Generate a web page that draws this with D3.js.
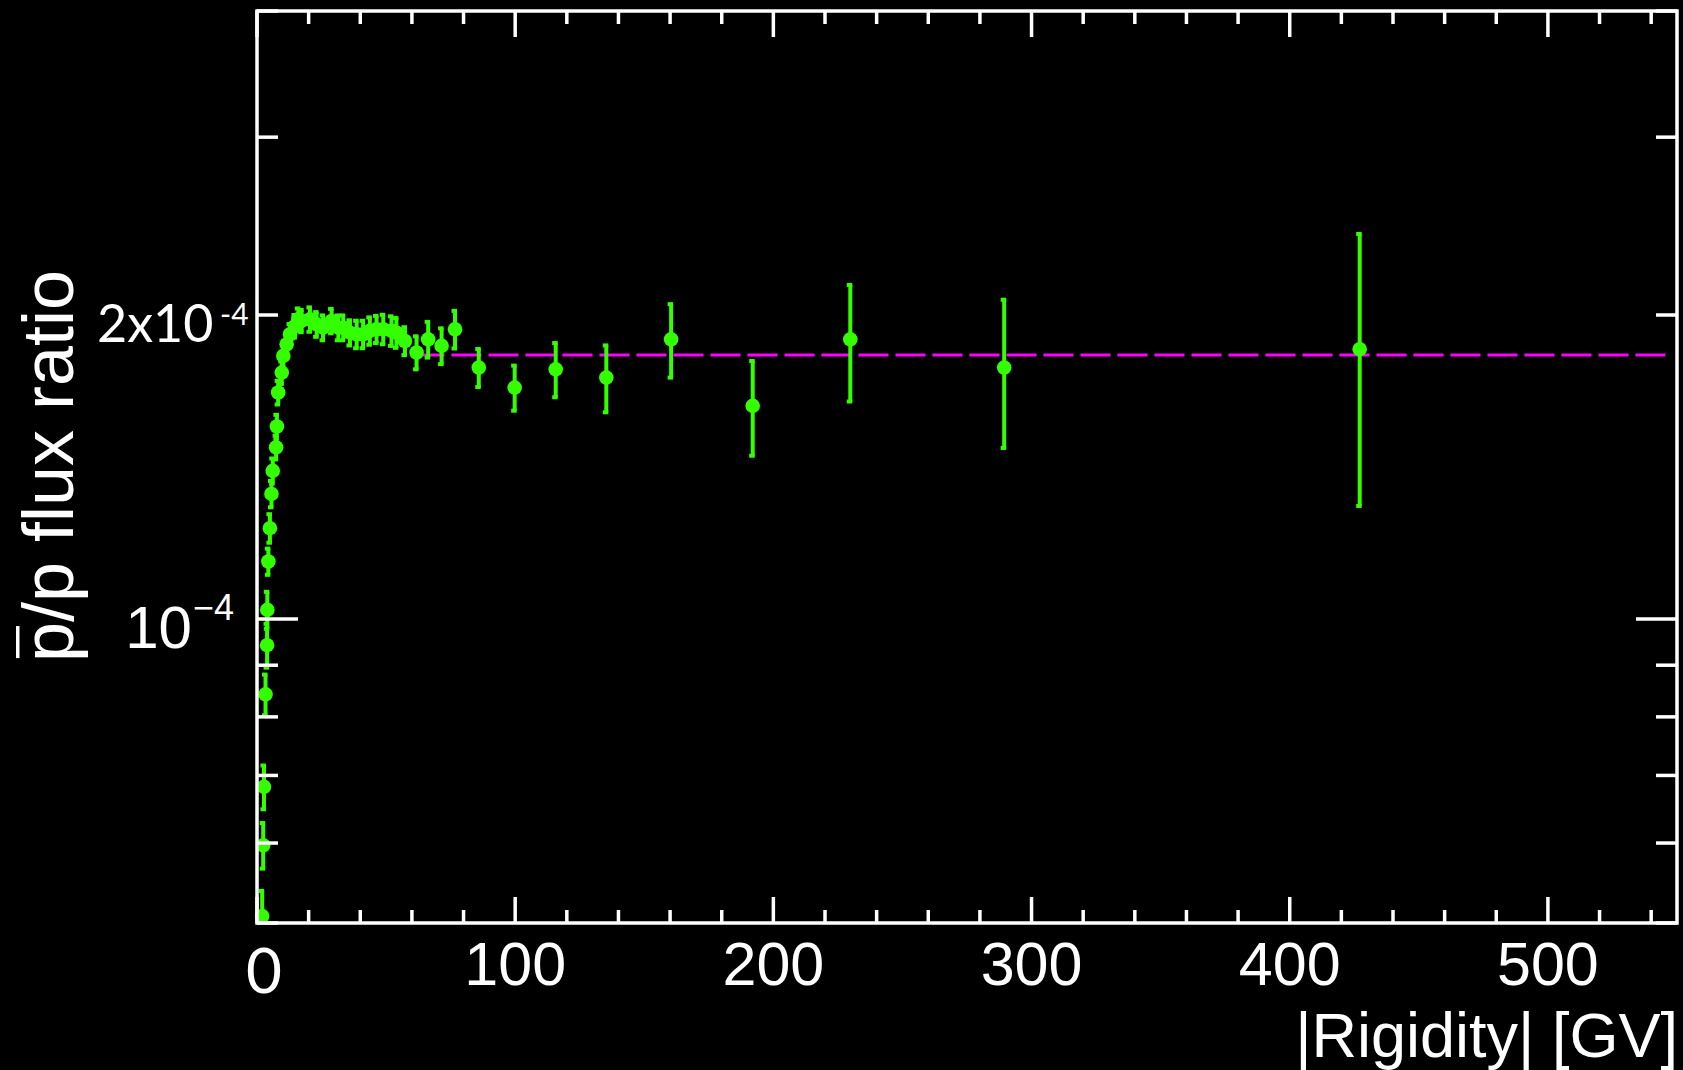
<!DOCTYPE html>
<html>
<head>
<meta charset="utf-8">
<script src="https://cdn.jsdelivr.net/npm/d3@7"></script>
<style>
  body { margin: 0; background: #000; }
  svg { display: block; }
</style>
</head>
<body>
<div id="chart"></div>
<script>
(function () {
  "use strict";

  // pbar/p ratio vs |rigidity|
  const rigidity = [
    2.0, 2.4, 2.7, 3.3, 3.9, 4.0, 4.4, 5.0, 5.6, 6.1, 7.4, 7.7, 8.2, 9.6,
    10.2, 11.5, 12.8, 14.7, 16.0, 17.3, 20.5, 23.1, 25.6, 28.9, 31.5, 33.4,
    36.0, 38.6, 41.1, 43.7, 46.3, 48.9, 52.1, 54.0, 57.3, 61.8, 66.3, 71.5,
    76.7, 85.9, 99.8, 115.7, 135.3, 160.4, 192.0, 229.8, 289.4, 427.1
  ];
  const ratio = [
    5.08e-5, 5.97e-5, 6.82e-5, 8.42e-5, 9.42e-5, 1.021e-4, 1.14e-4, 1.23e-4,
    1.33e-4, 1.402e-4, 1.479e-4, 1.551e-4, 1.676e-4, 1.754e-4, 1.822e-4,
    1.871e-4, 1.914e-4, 1.95e-4, 1.98e-4, 1.973e-4, 1.98e-4, 1.958e-4,
    1.943e-4, 1.973e-4, 1.943e-4, 1.943e-4, 1.921e-4, 1.914e-4, 1.914e-4,
    1.929e-4, 1.936e-4, 1.936e-4, 1.929e-4, 1.921e-4, 1.885e-4, 1.836e-4,
    1.892e-4, 1.864e-4, 1.936e-4, 1.774e-4, 1.695e-4, 1.767e-4, 1.734e-4,
    1.892e-4, 1.626e-4, 1.892e-4, 1.774e-4, 1.85e-4
  ];
  const ratioErr = [
    0.3e-5, 0.31e-5, 0.34e-5, 0.39e-5, 0.47e-5, 0.43e-5, 0.34e-5, 0.4e-5,
    0.4e-5, 0.4e-5, 0.4e-5, 0.42e-5, 0.45e-5, 0.45e-5, 0.45e-5, 0.45e-5,
    0.45e-5, 0.5e-5, 0.5e-5, 0.5e-5, 0.55e-5, 0.55e-5, 0.55e-5, 0.55e-5,
    0.55e-5, 0.55e-5, 0.55e-5, 0.6e-5, 0.6e-5, 0.6e-5, 0.6e-5, 0.65e-5,
    0.65e-5, 0.65e-5, 0.6e-5, 0.69e-5, 0.77e-5, 0.76e-5, 0.83e-5, 0.77e-5,
    0.87e-5, 1.09e-5, 1.32e-5, 1.58e-5, 1.75e-5, 2.5e-5, 2.97e-5, 5.56e-5
  ];

  // constant fit above ~60 GV
  const fitLevel = 1.826e-4;
  const fitRange = [61, 545.5];

  // axes
  const xDomain = [0, 550];
  const yDomain = [5e-5, 4e-4];
  const xMajor = [0, 100, 200, 300, 400, 500];
  const xMinor = d3.range(0, 551, 20);
  const xLabels = ["100", "200", "300", "400", "500"];
  const yMinor = [5e-5, 6e-5, 7e-5, 8e-5, 9e-5, 2e-4, 3e-4, 4e-4];
  const yMajor = [1e-4];

  const W = 1683, H = 1070;
  const left = 257, right = 1677, top = 11, bottom = 923;
  const green = "#33ff00";

  const svg = d3
    .select("#chart")
    .append("svg")
    .attr("width", W)
    .attr("height", H)
    .style("background", "#000");

  const x = d3.scaleLinear().domain(xDomain).range([left, right]);
  const y = d3.scaleLog().domain(yDomain).range([bottom, top]);

  const plot = svg.append("g");

  // dashed fit line
  plot
    .append("line")
    .attr("x1", x(fitRange[0]))
    .attr("x2", x(fitRange[1]))
    .attr("y1", y(fitLevel))
    .attr("y2", y(fitLevel))
    .attr("stroke", "#ff00ff")
    .attr("stroke-width", 3)
    .attr("stroke-dasharray", "30 7");

  const pts = rigidity.map((r, i) => ({ r: r, v: ratio[i], e: ratioErr[i] }));

  // error bars
  const bars = plot.append("g").attr("fill", green);
  bars
    .selectAll("rect.bar")
    .data(pts)
    .join("rect")
    .attr("class", "bar")
    .attr("x", (d) => x(d.r) - 2)
    .attr("width", 4)
    .attr("y", (d) => Math.max(top, y(d.v + d.e)))
    .attr("height", (d) => Math.min(bottom, y(d.v - d.e)) - Math.max(top, y(d.v + d.e)));

  // little end marks
  bars
    .selectAll("rect.cap")
    .data(pts.flatMap((d) => [
      { r: d.r, py: y(d.v + d.e) },
      { r: d.r, py: y(d.v - d.e) }
    ]).filter((c) => c.py < bottom - 2))
    .join("rect")
    .attr("class", "cap")
    .attr("x", (d) => x(d.r) - 3.5)
    .attr("width", 5.5)
    .attr("y", (d) => d.py - 2)
    .attr("height", 4);

  // markers
  plot
    .append("g")
    .selectAll("circle")
    .data(pts)
    .join("circle")
    .attr("cx", (d) => x(d.r))
    .attr("cy", (d) => y(d.v))
    .attr("r", 7.3)
    .attr("fill", green);

  // frame + ticks
  const frame = svg
    .append("g")
    .attr("stroke", "#fff")
    .attr("stroke-width", 3.5)
    .attr("fill", "none");

  frame
    .append("rect")
    .attr("x", left)
    .attr("y", top)
    .attr("width", right - left)
    .attr("height", bottom - top);

  const xt = xMinor.map((v) => ({ v: v, len: xMajor.includes(v) ? 26 : 13 }));
  frame
    .selectAll("line.xb")
    .data(xt)
    .join("line")
    .attr("x1", (d) => x(d.v))
    .attr("x2", (d) => x(d.v))
    .attr("y1", bottom)
    .attr("y2", (d) => bottom - d.len);
  frame
    .selectAll("line.xt")
    .data(xt)
    .join("line")
    .attr("x1", (d) => x(d.v))
    .attr("x2", (d) => x(d.v))
    .attr("y1", top)
    .attr("y2", (d) => top + d.len);

  const yt = yMinor.map((v) => ({ v: v, len: 21 })).concat(yMajor.map((v) => ({ v: v, len: 41 })));
  frame
    .selectAll("line.yl")
    .data(yt)
    .join("line")
    .attr("x1", left)
    .attr("x2", (d) => left + d.len)
    .attr("y1", (d) => y(d.v))
    .attr("y2", (d) => y(d.v));
  frame
    .selectAll("line.yr")
    .data(yt)
    .join("line")
    .attr("x1", right)
    .attr("x2", (d) => right - d.len)
    .attr("y1", (d) => y(d.v))
    .attr("y2", (d) => y(d.v));

  // x tick labels
  const txt = svg.append("g").attr("fill", "#fff");
  txt
    .selectAll("text.xl")
    .data(xLabels)
    .join("text")
    .attr("x", (d) => x(+d))
    .attr("y", 985)
    .attr("text-anchor", "middle")
    .style("font", "61px 'Liberation Sans', Arial, sans-serif")
    .text((d) => d);

  // hand-added "0"
  txt
    .append("text")
    .attr("x", 264)
    .attr("y", 993)
    .attr("text-anchor", "middle")
    .style("font", "62px Lato, sans-serif")
    .text("0");

  // 10^-4
  txt
    .append("text")
    .attr("x", 192)
    .attr("y", 648)
    .attr("text-anchor", "end")
    .style("font", "60px 'Liberation Sans', Arial, sans-serif")
    .text("10");
  txt
    .append("text")
    .attr("x", 193)
    .attr("y", 620)
    .style("font", "36px 'Liberation Sans', Arial, sans-serif")
    .text("\u22124");

  // hand-added 2x10^-4
  txt
    .append("text")
    .attr("x", 97)
    .attr("y", 342)
    .style("font", "52px Lato, sans-serif")
    .text("2x10");
  txt
    .append("text")
    .attr("x", 220)
    .attr("y", 325)
    .style("font", "30px Lato, sans-serif")
    .text("-4");

  // axis titles
  txt
    .append("text")
    .attr("x", 1678)
    .attr("y", 1057)
    .attr("text-anchor", "end")
    .style("font", "63px 'Liberation Sans', Arial, sans-serif")
    .text("|Rigidity| [GV]");

  const yTitleG = txt.append("g").attr("transform", "translate(73,466) rotate(-90)");
  const yTitle = yTitleG
    .append("text")
    .attr("text-anchor", "middle")
    .style("font", "72px 'Liberation Sans', Arial, sans-serif")
    .text("p/p flux ratio");

  // bar over the first p (antiproton)
  const node = yTitle.node();
  const p0 = node.getStartPositionOfChar(0).x;
  const pw = node.getSubStringLength(0, 1);
  yTitleG
    .append("rect")
    .attr("x", p0 + 4)
    .attr("width", pw - 8)
    .attr("y", -57)
    .attr("height", 3.5);
})();
</script>
</body>
</html>
